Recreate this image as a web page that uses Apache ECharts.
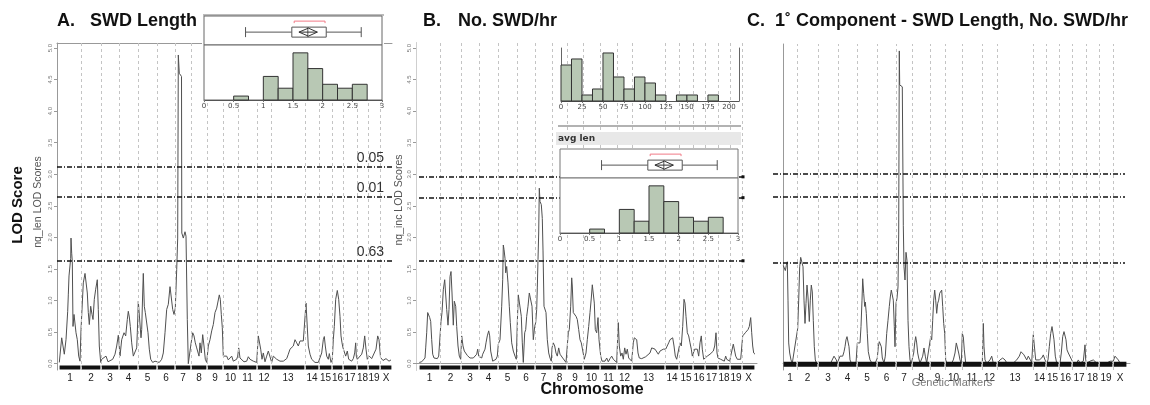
<!DOCTYPE html>
<html>
<head>
<meta charset="utf-8">
<style>
  html, body { margin: 0; padding: 0; background: #fff; }
  #chart-container { width: 1150px; height: 405px; }
</style>
</head>
<body>
<div id="chart-container"></div>
<script src="https://cdn.jsdelivr.net/npm/echarts@6/dist/echarts.min.js"></script>
<script>
var dom = document.getElementById('chart-container');
var myChart = echarts.init(dom, null, { renderer: 'canvas' });

// chromosome names, same order in every panel
const chromNames = ['1', '2', '3', '4', '5', '6', '7', '8', '9', '10', '11', '12', '13', '14', '15', '16', '17', '18', '19', 'X'];

// chromosome borders along each panel's map axis (start, inner borders, end)
const edgesLen = [2, 24, 44, 62, 81, 100, 118, 134, 150, 166, 181, 200, 214, 248, 262, 275, 286, 300, 311, 323, 335];
const edgesRate = [3, 24, 45, 63, 82, 101, 119, 136, 151, 167, 184, 201, 216, 249, 263, 277, 289, 302, 314, 326, 339];
const edgesPC = [0, 14, 35, 55, 74, 94, 113, 129, 147, 162, 179, 199, 214, 250, 263, 276, 289, 303, 316, 330, 344];

// significance thresholds (LOD)
const threshLen = [3.12, 2.64, 1.63];
const threshLenLabels = ['0.05', '0.01', '0.63'];
const threshRate = [2.96, 2.63, 1.63];
const threshPC = [3.02, 2.65, 1.61];

const yTicks = [0, 0.5, 1, 1.5, 2, 2.5, 3, 3.5, 4, 4.5, 5];
const lenTicks = [0, 0.5, 1, 1.5, 2, 2.5, 3];
const rateTicks = [0, 25, 50, 75, 100, 125, 150, 175, 200];

// LOD profiles [map position, LOD]
const lodLen = [
  [2.3,0.02],[4.7,0.41],[7.3,0.15],[9,0.38],[9.7,0.41],[10.7,0.83],[11.3,1.09],[12,1.39],[13,1.41],[13.7,1.67],[14,1.99],[14.7,1.75],[15.3,1.62],[16,0.59],[17,0.78],[18,0.75],[19,0.49],[20.3,0.38],[21.7,0.12],[23,0.04],
  [24,0.54],[26.3,1.28],[28,1.43],[29,1.41],[30.3,1.12],[31.3,0.81],[32.3,0.62],[33.7,0.91],[35,0.78],[36,0.7],[37.3,1.02],[38.7,1.18],[39.3,1.17],[40.3,1.33],[41.3,0.86],[42.3,0.28],[43.7,0.02],
  [44.7,0.07],[46.3,0.08],[49,0.12],[51,0.03],[53,0.04],[55.7,0.07],[58,0.15],[59.7,0.28],[61.3,0.45],[62,0.33],
  [63,0.12],[64.7,0.38],[67,0.49],[68.7,0.44],[70.3,0.7],[71.3,0.83],[72.3,0.74],[73.3,0.59],[74.7,0.33],[76.3,0.12],[78,0.12],[79.7,0.25],[80.3,0.49],
  [81.3,0.99],[83,0.99],[84,0.41],[84.7,0.54],[85.7,1.12],[86.3,1.43],[87.3,0.91],[88.3,0.81],[89.7,0.78],[91,0.49],[92.3,0.23],[93.7,0.07],[95.7,0.02],[98,0.04],
  [99.7,0.04],[102.3,0.02],[104.7,0.07],[106.3,0.17],[108,0.49],[109.7,0.86],[111.3,0.94],[113,1.22],[114.7,1.22],[115.7,0.86],[117,0.78],[118.3,0.88],
  [119.7,1.49],[120.7,1.99],[121.3,4.89],[122.3,4.6],[124.5,4.55],[124.8,2.07],[126.3,1.99],[128,2.09],[129,2.02],[130.3,0.7],[131.3,0],
  [133.7,0.28],[135.7,0.49],[137,0.44],[138.3,0.33],[139.7,0.25],[141,0.28],[142,0.12],[143,0.33],[144.3,0.17],[145.7,0.46],[147,0.28],[148.3,0.07],[149.7,0.02],
  [151.3,0.28],[153,0.38],[154.7,0.52],[156.3,0.62],[158,0.81],[159.7,0.88],[161.3,0.91],[162.3,1.09],[163.3,1.02],[164.3,0.78],[165.3,0.57],
  [166.3,0.12],[168,0.15],[169.7,0.12],[171.3,0.06],[173,0.08],[174.7,0.12],[176.3,0.04],[178,0.03],[179.7,0.07],[180.7,0.12],
  [181.7,0.25],[183,0.09],[184.7,0.06],[187,0.03],[189.7,0.04],[191.3,0.11],[193,0.07],[194.7,0.08],[196.3,0.04],[198,0.03],[199.7,0.02],
  [201.3,0.44],[202.3,0.43],[203.7,0.23],[205,0.07],[206.3,0.17],[208,0.03],[209.7,0.12],[211.3,0.2],[213,0.23],
  [214.7,0.02],[216.3,0.12],[218,0.14],[219.7,0.07],[223,0.04],[226.3,0.04],[229.7,0.08],[231.3,0.15],[233,0.23],[234.7,0.2],[236.3,0.28],[238,0.38],[239.7,0.33],[241.3,0.28],[243,0.36],[244.7,0.33],[246.3,0.36],[247.3,0.38],
  [249,0.96],[250,0.95],[251.3,0.28],[253,0.15],[254.7,0.07],[256.3,0.09],[258,0.02],[259.7,0.04],[261.3,0.02],
  [263,0.03],[264.7,0.17],[266.3,0.38],[267.3,0.43],[268.3,0.28],[269.7,0.12],[271.3,0.07],[272.3,0.16],[274,0.02],
  [275.3,0.07],[276.3,0.38],[277.3,0.59],[278.7,1.02],[280.3,1.16],[281.7,1.02],[283,0.75],[284,0.44],[285,0.33],[286,0.25],
  [287,0.23],[288.7,0.12],[290.3,0.2],[291.7,0.07],[293,0.09],[294.7,0.04],[296.3,0.08],[297.7,0.17],[298.7,0.33],[299.3,0.12],
  [300.3,0.07],[302.3,0.09],[304.7,0.15],[306.3,0.25],[307.7,0.44],[309,0.23],[310.3,0.07],
  [312.3,0.12],[314.7,0.08],[316.3,0.06],[319,0.23],[320.7,0.44],[322,0.38],
  [323.5,0.1],[326,0.05],[329,0.08],[332,0.04],[334,0.06]
];

const lodRate = [
  [3.3,0.02],[5.7,0.03],[7.3,0.02],[9,0.09],[9.7,0.25],[10.7,0.49],[11.7,0.81],[12.7,0.83],[13.7,0.73],[14.7,0.67],[15.7,0.38],[16.7,0.15],[18,0.09],[20,0.07],[21.3,0.08],[22.7,0.12],[23.7,0.13],
  [25,0.67],[26,0.81],[27.3,1.17],[28.7,1.33],[29.7,1.33],[30.7,0.86],[32,0.61],[33,0.86],[34,1.38],[35,1.46],[36,1.12],[37.3,0.61],[38.3,0.99],[39.7,0.91],[40.7,0.59],[42,0.28],[43.3,0.12],[44.7,0.07],
  [45.7,0.44],[47,0.28],[48.3,0.2],[50,0.17],[51.3,0.13],[52.7,0.15],[54,0.09],[55.7,0.07],[57.3,0.09],[59,0.11],[60.7,0.15],[61.7,0.23],[62.7,0.12],
  [64,0.12],[65.7,0.09],[66.7,0.15],[68,0.12],[69,0.23],[70,0.33],[71.3,0.44],[72.7,0.52],[73.7,0.44],[74.7,0.2],[76.7,0.04],[78.3,0.04],[80,0.07],[81.3,0.12],
  [82.3,0.31],[84,0.38],[85.7,0.91],[86.7,1.33],[87.3,1.88],[88,1.81],[89,1.67],[89.7,1.44],[90.7,1.54],[92,1.28],[93.3,0.91],[94.3,0.65],[95.7,0.33],[97.3,0.2],[99,0.12],[100.3,0.07],
  [101.3,0.65],[102.3,1.09],[103.3,1.09],[104.3,1.07],[105.3,0.75],[106.3,0.33],[107.3,0.02],[108.7,0.49],[109.7,0.54],[110.7,0.75],[112,0.91],[113.3,1.12],[114.7,1.09],[116,0.91],[117.3,0.38],[118.7,0.59],
  [119.7,0.65],[120.7,0.86],[121.3,1.2],[122,1.65],[122.7,2.07],[123.3,2.78],[124,2.57],[125.3,2.52],[126.3,2.3],[127,1.8],[128,0.91],[129,0.94],[130,0.81],[131.3,0.38],[132.7,0.17],[134,0.09],[135.3,0.04],
  [136,0.25],[137.3,0.33],[138.7,0.28],[140,0.17],[141.3,0.12],[142.7,0.25],[144,0.15],[145.3,0.17],[146.7,0.09],[148.3,0.07],[150,0.02],
  [152.3,0.49],[153.3,0.54],[154.7,0.91],[155.7,1.36],[156.3,1.23],[157.3,0.81],[158.7,0.78],[160,0.75],[161.3,0.7],[162.7,0.54],[164,0.38],[165.3,0.33],[166.7,0.31],
  [168.3,0.07],[170,0.17],[171.3,0.38],[172.7,0.59],[174,0.81],[175.3,1.04],[176.3,1.25],[177.3,1.22],[178.3,0.96],[179.3,0.54],[180.7,0.49],[182,0.73],[183,0.38],
  [184.7,0.12],[186,0.04],[187.3,0.07],[189,0.04],[190.7,0.09],[192.3,0.03],[194,0.08],[195.7,0.12],[197.3,0.07],[199,0.08],[200.7,0.02],
  [202.3,0.65],[203.3,0.28],[204.7,0.12],[206,0.17],[207.3,0.07],[208.7,0.25],[210,0.15],[211.3,0.23],[212.7,0.09],[214,0.07],[215.7,0.04],
  [217.3,0.33],[218.3,0.41],[219.7,0.44],[220.7,0.38],[222,0.17],[223.3,0.09],[225.7,0.08],[227.3,0.07],[229.7,0.11],[231.7,0.12],[234,0.17],[235.7,0.25],[237.3,0.28],[239,0.23],[240.7,0.25],[242.3,0.15],[244,0.2],[245.7,0.17],[247.3,0.23],[248.3,0.24],
  [249.7,0.23],[251.3,0.25],[252.7,0.33],[254,0.38],[255.3,0.36],[256.7,0.41],[258,0.28],[259.3,0.12],[260.7,0.07],[262.3,0.04],
  [264,0.33],[265.3,0.28],[266.7,0.59],[268,1.02],[269,0.96],[270,0.75],[271.3,0.49],[272.7,0.44],[274,0.33],[275.3,0.23],[276.3,0.12],
  [277.3,0.12],[278.7,0.23],[280,0.25],[281.3,0.23],[282.7,0.12],[284,0.33],[285.3,0.44],[286.3,0.23],[287.7,0.07],[288.7,0.09],
  [289.7,0.07],[291.3,0.12],[292.7,0.09],[294,0.15],[295.7,0.17],[297.3,0.2],[298.7,0.28],[300,0.49],[301,0.17],[302,0.09],
  [303,0.09],[304.7,0.07],[306.3,0.08],[308.3,0.04],[309.7,0.12],[310.7,0.07],[312.3,0.07],[313.7,0.04],
  [314.7,0.12],[316.3,0.15],[317.3,0.31],[318.3,0.28],[319.7,0.12],[321.3,0.07],[323,0.09],[324.7,0.07],
  [326.7,0.44],[328,0.44],[329.3,0.49],[330.7,0.46],[332,0.54],[333.3,0.59],[334.7,0.73],[335.7,0.49],[336.7,0.28],[337.7,0.17],[339,0.15]
];

const lodPC = [
  [0.3,1.56],[1.3,1.54],[2.3,1.48],[3.3,1.56],[4.3,1.62],[5,1.01],[5.7,0.33],[6.7,0.17],[8,0.06],[9.3,0.01],[11.3,0],
  [14.7,0.56],[15.7,1.01],[16.7,1.54],[17.7,1.69],[19,1.72],[20,1.54],[21,1.01],[22,0.64],[23,0.96],[24,1.25],[25,1.06],[26.3,0.67],[27.3,1.01],[28.3,1.25],[29.3,1.14],[30.3,0.69],[31.3,0.27],[32.3,0.06],[33.7,0],
  [36.3,0.01],[40.3,0],[45.3,0],[47.7,0.01],[49.7,0.04],[51,0.12],[52.3,0.14],[53.3,0.06],[54.3,0.01],
  [55.7,0.04],[57,0.12],[58.3,0.14],[59.7,0.12],[61,0.19],[62,0.27],[63,0.38],[64,0.43],[65,0.41],[66,0.27],[67,0.06],[68.7,0],[73,0.01],
  [74.3,0.33],[75.7,0.35],[77,0.33],[78,0.59],[79,1.01],[79.7,1.35],[80.7,1.12],[81.7,0.91],[82.3,0.98],[83.3,0.8],[84.3,0.48],[85.3,0.19],[87,0.06],[89,0.01],[92,0],
  [94.3,0.09],[95.3,0.27],[96.3,0.35],[97.3,0.35],[98.3,0.27],[99.3,0.09],[101,0.01],[102.3,0.12],[103.7,0.48],[105,0.69],[106.3,0.91],[107.3,1.06],[108.3,1.17],[109.3,1.14],[110.3,1.01],[111.3,0.59],[112,0.27],
  [113,0.96],[114,1.04],[115,1.22],[115.7,2.06],[116.3,4.97],[116.7,4.43],[119.3,4.4],[119.7,4.38],[120.3,2.2],[121,1.54],[122,1.33],[123,1.77],[124,1.64],[125,0.69],[126,0.27],[127,0.06],[128.3,0.01],
  [129.7,0.04],[130.7,0.17],[131.7,0.33],[132.7,0.43],[133.7,0.33],[134.7,0.17],[135.7,0.09],[137,0.01],[138.3,0.04],[139.7,0.12],[141,0.25],[142.3,0.12],[143.7,0.01],[145.3,0],
  [147.7,0.43],[148.7,0.38],[149.7,0.69],[150.7,1.01],[151.7,1.17],[152.7,1.01],[153.7,0.8],[154.7,0.96],[155.7,1.01],[156.7,1.12],[157.7,1.09],[158.7,1.17],[159.7,0.91],[160.7,0.64],[161.7,0.48],
  [162.7,0.06],[164.3,0],[168.3,0],[170.3,0.06],[172,0.17],[173.3,0.33],[174.3,0.35],[175.7,0.17],[177,0.06],[178.3,0.01],
  [179.3,0.48],[180.3,0.43],[181.3,0.22],[182.7,0.01],[187,0.01],[192,0],[197,0],
  [199.3,0.01],[200.3,0.64],[201,0.27],[202,0.06],[203.7,0.01],[205.3,0.04],[207,0.06],[208.7,0.12],[210.3,0.01],[212,0],
  [214.3,0.01],[217,0.06],[219.7,0.09],[222,0.06],[224.3,0],[230.3,0.01],[233.7,0.06],[236.3,0.12],[238,0.19],[239.3,0.22],[241,0.14],[242.3,0.12],[243.7,0.06],[245.3,0.12],[247,0.09],[248.7,0.02],
  [250.3,0.46],[251.7,0.43],[252.7,0.06],[254.3,0.04],[256.3,0.06],[258.7,0.09],[260.3,0.14],[262,0.06],
  [263.7,0.01],[265,0.06],[266.3,0.27],[267.7,0.48],[269,0.59],[270,0.56],[271,0.38],[272.3,0.12],[273.7,0.01],[275.3,0],
  [277,0.01],[278.3,0.17],[279.7,0.43],[281,0.51],[282,0.54],[283,0.38],[284,0.22],[285.3,0.17],[287,0.19],[288.7,0.06],
  [290.3,0.01],[293.7,0.01],[295.3,0.06],[297,0.01],[300.3,0.04],[302,0.3],[302.7,0.06],
  [303.7,0.01],[307,0.04],[310.3,0.06],[312,0.09],[313.7,0.01],[315.3,0.01],
  [317,0.01],[320.3,0],[323.7,0.01],[327,0.04],[328.7,0.01],
  [330.3,0.04],[332,0.12],[333.7,0.09],[335.3,0.06],[337,0.01],[338.7,0.04],[340.3,0.01],[342,0]
];

// phenotype distributions: bin edges and counts
const lenBins = [0, 0.25, 0.5, 0.75, 1, 1.25, 1.5, 1.75, 2, 2.25, 2.5, 2.75, 3];
const lenCounts = [0, 0, 1, 0, 6, 3, 12, 8, 4, 3, 4, 0];
const rateBins = [0, 12.5, 25, 37.5, 50, 62.5, 75, 87.5, 100, 112.5, 125, 137.5, 150, 162.5, 175, 187.5, 200];
const rateCounts = [6, 7, 1, 2, 8, 4, 2, 4, 3, 1, 0, 1, 1, 0, 1, 0];
// outlier box: min, q1, median, q3, max, mean-ci low, mean, mean-ci high, shortest half low, high
const lenBox = [0.70, 1.48, 1.75, 2.06, 2.65, 1.60, 1.76, 1.91, 1.52, 2.04];

const FONT = 'Liberation Sans';

function mids(edges) {
  const m = [];
  for (let i = 0; i < edges.length - 1; i++) m.push((edges[i] + edges[i + 1]) / 2);
  return m;
}

function chromFormatter(edges) {
  const m = mids(edges);
  return function (v) {
    for (let i = 0; i < m.length; i++) {
      if (Math.abs(m[i] - v) < 1e-6) return chromNames[i];
    }
    return '';
  };
}

function rugData(edges, y) {
  const d = [];
  for (let i = 0; i < edges.length - 1; i++) {
    d.push([edges[i] + 0.6, y]);
    d.push([edges[i + 1] - 0.6, y]);
    d.push([edges[i + 1], null]);
  }
  return d;
}

function histData(bins, counts) {
  return counts.map((c, i) => [bins[i], bins[i + 1], c]);
}

const threshStyle = { color: '#111', width: 1.5, type: [5, 2, 1, 2] };

function dividerLines(edges) {
  return edges.slice(1, -1).map(e => ({
    xAxis: e,
    lineStyle: { color: '#c4c4c4', type: [3, 3], width: 1 },
    label: { show: false }
  }));
}

function thresholdLines(thresh, x0, x1, labels, endDot) {
  return thresh.map((t, i) => [
    {
      coord: [x0, t],
      lineStyle: threshStyle,
      label: labels ? {
        show: true, formatter: labels[i], position: 'insideEndTop',
        distance: [8, 2], fontSize: 14, color: '#333', fontFamily: FONT
      } : { show: false }
    },
    endDot ? { coord: [x1, t], symbol: 'rect', symbolSize: 3 } : { coord: [x1, t] }
  ]);
}

function mainX(gridIndex, min, max, edges, topLine) {
  return [
    {
      gridIndex: gridIndex, type: 'value', min: min, max: max,
      axisLine: { show: false }, axisTick: { show: false }, splitLine: { show: false },
      axisLabel: edges ? {
        customValues: mids(edges), formatter: chromFormatter(edges),
        margin: 3, fontSize: 10, color: '#222', fontFamily: FONT
      } : { show: false }
    },
    {
      gridIndex: gridIndex, type: 'value', position: 'top', min: min, max: max,
      axisLine: { show: topLine, lineStyle: { color: '#999' } },
      axisTick: { show: false }, axisLabel: { show: false }, splitLine: { show: false }
    }
  ];
}

function mainY(gridIndex, withLabels) {
  return {
    gridIndex: gridIndex, type: 'value', min: -0.1, max: 5.08,
    axisLine: { show: withLabels, lineStyle: { color: '#999' } },
    axisTick: { show: withLabels, customValues: yTicks, length: 3, lineStyle: { color: '#999' } },
    axisLabel: {
      show: withLabels, customValues: yTicks, rotate: 90, fontSize: 6, color: '#777', margin: 4,
      formatter: v => v.toFixed(1)
    },
    splitLine: { show: false }
  };
}

function rightBorder(gridIndex, color) {
  return {
    gridIndex: gridIndex, type: 'value', min: -0.1, max: 5.08, position: 'right',
    axisLine: { show: true, lineStyle: { color: color } },
    axisTick: { show: false }, axisLabel: { show: false }, splitLine: { show: false }
  };
}

function insetX(gridIndex, min, max, ticks, showAxis) {
  return {
    gridIndex: gridIndex, type: 'value', min: min, max: max, z: 6,
    axisLine: { show: showAxis, lineStyle: { color: '#555' } },
    axisTick: { show: showAxis, customValues: ticks, length: 2, lineStyle: { color: '#777' } },
    axisLabel: { show: showAxis, customValues: ticks, fontSize: 7, color: '#444', margin: 3, fontFamily: 'DejaVu Sans' },
    splitLine: { show: false }
  };
}

function insetY(gridIndex, min, max, position, showLine) {
  return {
    gridIndex: gridIndex, type: 'value', min: min, max: max, position: position || 'left', z: 6,
    axisLine: { show: !!showLine, onZero: false, lineStyle: { color: '#666' } },
    axisTick: { show: false }, axisLabel: { show: false }, splitLine: { show: false }
  };
}

function renderHist(params, api) {
  const c = api.value(2);
  if (!c) return null;
  const p0 = api.coord([api.value(0), c]);
  const p1 = api.coord([api.value(1), 0]);
  return {
    type: 'rect',
    shape: { x: p0[0], y: p0[1], width: p1[0] - p0[0], height: p1[1] - p0[1] },
    style: { fill: '#b8c8b4', stroke: '#333', lineWidth: 1 }
  };
}

function renderBox(params, api) {
  const pt = i => api.coord([api.value(i), 0]);
  const lo = pt(0), q1 = pt(1), md = pt(2), q3 = pt(3), hi = pt(4);
  const mLo = pt(5), mn = pt(6), mHi = pt(7), sLo = pt(8), sHi = pt(9);
  const cy = lo[1];
  const st = { stroke: '#555', lineWidth: 1, fill: null };
  return {
    type: 'group',
    children: [
      { type: 'line', shape: { x1: lo[0], y1: cy, x2: q1[0], y2: cy }, style: st },
      { type: 'line', shape: { x1: q3[0], y1: cy, x2: hi[0], y2: cy }, style: st },
      { type: 'line', shape: { x1: lo[0], y1: cy - 5, x2: lo[0], y2: cy + 5 }, style: st },
      { type: 'line', shape: { x1: hi[0], y1: cy - 5, x2: hi[0], y2: cy + 5 }, style: st },
      { type: 'rect', shape: { x: q1[0], y: cy - 5, width: q3[0] - q1[0], height: 10 }, style: { stroke: '#555', fill: '#fff', lineWidth: 1 } },
      { type: 'line', shape: { x1: md[0], y1: cy - 5, x2: md[0], y2: cy + 5 }, style: st },
      { type: 'polygon', shape: { points: [[mLo[0], cy], [mn[0], cy - 4], [mHi[0], cy], [mn[0], cy + 4]] }, style: { stroke: '#333', fill: null, lineWidth: 1 } },
      { type: 'line', shape: { x1: mLo[0], y1: cy, x2: mHi[0], y2: cy }, style: { stroke: '#333', lineWidth: 1 } },
      { type: 'polyline', shape: { points: [[sLo[0], cy - 9], [sLo[0], cy - 11], [sHi[0], cy - 11], [sHi[0], cy - 9]] }, style: { stroke: '#f07a86', fill: null, lineWidth: 1 } }
    ]
  };
}

function curveSeries(xi, yi, data, markData) {
  return {
    type: 'line', xAxisIndex: xi, yAxisIndex: yi, data: data,
    symbol: 'none', showSymbol: false, z: 2,
    lineStyle: { color: '#505050', width: 1 },
    markLine: { silent: true, symbol: 'none', animation: false, data: markData }
  };
}

function rugSeries(xi, yi, edges, y, w) {
  return {
    type: 'line', xAxisIndex: xi, yAxisIndex: yi, data: rugData(edges, y),
    symbol: 'none', z: 3, connectNulls: false,
    lineStyle: { color: '#111', width: w }
  };
}

const titleStyle = { fontFamily: FONT, fontWeight: 'bold', fontSize: 18, color: '#111' };

var option = {
  animation: false,
  backgroundColor: '#fff',
  title: [
    { text: 'A.', left: 57, top: 12, padding: 0, textStyle: titleStyle },
    { text: 'SWD Length', left: 90, top: 12, padding: 0, textStyle: titleStyle },
    { text: 'B.', left: 423, top: 12, padding: 0, textStyle: titleStyle },
    { text: 'No. SWD/hr', left: 458, top: 12, padding: 0, textStyle: titleStyle },
    { text: 'C.', left: 747, top: 12, padding: 0, textStyle: titleStyle },
    { text: '1˚ Component - SWD Length, No. SWD/hr', left: 775, top: 12, padding: 0, textStyle: titleStyle }
  ],
  grid: [
    { left: 57, top: 43, width: 335, height: 327 },
    { left: 416, top: 43, width: 341, height: 327 },
    { left: 783, top: 44, width: 347, height: 326 },
    { left: 204, top: 16, width: 178, height: 29, show: true, z: 6, borderColor: '#666', backgroundColor: '#fff' },
    { left: 204, top: 45, width: 178, height: 55, show: true, z: 6, borderColor: '#666', backgroundColor: '#fff' },
    { left: 561, top: 48, width: 178, height: 53, z: 6 },
    { left: 560, top: 149, width: 178, height: 29, show: true, z: 6, borderColor: '#777', backgroundColor: '#fff' },
    { left: 560, top: 178, width: 178, height: 55, show: true, z: 6, borderColor: '#777', backgroundColor: '#fff' },
    // panel C thresholds reach a little left of the plot frame
    { left: 773, top: 44, width: 357, height: 326 }
  ],
  xAxis: [].concat(
    mainX(0, 0, 335, edgesLen, true),
    mainX(1, 0, 341, edgesRate, true),
    mainX(2, 0, 347, edgesPC, true),
    [
      insetX(3, 0, 3, lenTicks, false),
      insetX(4, 0, 3, lenTicks, true),
      insetX(5, 0, 212, rateTicks, true),
      insetX(6, 0, 3, lenTicks, false),
      insetX(7, 0, 3, lenTicks, true)
    ],
    mainX(8, -10, 347, null, false)
  ),
  yAxis: [
    mainY(0, true),
    mainY(1, true),
    mainY(2, false),
    rightBorder(2, '#999'),
    insetY(3, -0.8, 1),
    insetY(4, 0, 14),
    insetY(5, 0, 8.83, 'left', true),
    insetY(5, 0, 8.83, 'right', true),
    insetY(6, -0.8, 1),
    insetY(7, 0, 14),
    rightBorder(1, '#cfcfcf'),
    mainY(8, false)
  ],
  graphic: [
    // white backing behind the two inset distribution panels
    { type: 'rect', z: 5, shape: { x: 202, y: 14, width: 182, height: 99 }, style: { fill: '#fff' } },
    { type: 'line', z: 6, shape: { x1: 203, y1: 15, x2: 384, y2: 15 }, style: { stroke: '#777', lineWidth: 1 } },
    { type: 'rect', z: 5, shape: { x: 555, y: 44, width: 185, height: 203 }, style: { fill: '#fff' } },
    { type: 'line', z: 6, shape: { x1: 558, y1: 126, x2: 741, y2: 126 }, style: { stroke: '#999', lineWidth: 1.5 } },
    { type: 'rect', z: 6, shape: { x: 556, y: 132, width: 185, height: 13 }, style: { fill: '#e8e8e8' } },
    { type: 'text', z: 8, x: 558, y: 138.5, style: { text: 'avg len', fontSize: 9, fontWeight: 'bold', fontFamily: 'DejaVu Sans', fill: '#333', align: 'left', verticalAlign: 'middle' } },
    { type: 'text', z: 8, x: 18, y: 205, rotation: Math.PI / 2, style: { text: 'LOD Score', fontSize: 15, fontWeight: 'bold', fontFamily: FONT, fill: '#111', align: 'center', verticalAlign: 'middle' } },
    { type: 'text', z: 8, x: 38, y: 202, rotation: Math.PI / 2, style: { text: 'nq_len LOD Scores', fontSize: 10.5, fontFamily: FONT, fill: '#555', align: 'center', verticalAlign: 'middle' } },
    { type: 'text', z: 8, x: 399, y: 200, rotation: Math.PI / 2, style: { text: 'nq_inc LOD Scores', fontSize: 10.5, fontFamily: FONT, fill: '#555', align: 'center', verticalAlign: 'middle' } },
    { type: 'text', z: 8, x: 592, y: 390, style: { text: 'Chromosome', fontSize: 16, fontWeight: 'bold', fontFamily: FONT, fill: '#111', align: 'center', verticalAlign: 'middle' } },
    { type: 'text', z: 8, x: 952, y: 383, style: { text: 'Genetic Markers', fontSize: 11, fontFamily: FONT, fill: '#777', align: 'center', verticalAlign: 'middle' } }
  ],
  series: [
    curveSeries(0, 0, lodLen, dividerLines(edgesLen).concat(thresholdLines(threshLen, 0, 335, threshLenLabels, false))),
    curveSeries(2, 1, lodRate, dividerLines(edgesRate).concat(thresholdLines(threshRate, 3, 327, null, true))),
    curveSeries(4, 2, lodPC, dividerLines(edgesPC)),
    {
      type: 'line', xAxisIndex: 11, yAxisIndex: 11, data: [], symbol: 'none', z: 2,
      markLine: { silent: true, symbol: 'none', animation: false, data: thresholdLines(threshPC, -10, 342, null, false) }
    },
    rugSeries(0, 0, edgesLen, -0.06, 4),
    rugSeries(2, 1, edgesRate, -0.06, 4),
    rugSeries(4, 2, edgesPC, -0.01, 5),
    { type: 'custom', xAxisIndex: 6, yAxisIndex: 4, z: 7, renderItem: renderBox, data: [lenBox], encode: { x: [0, 4] } },
    { type: 'custom', xAxisIndex: 7, yAxisIndex: 5, z: 7, renderItem: renderHist, data: histData(lenBins, lenCounts), encode: { x: [0, 1], y: 2 } },
    { type: 'custom', xAxisIndex: 8, yAxisIndex: 6, z: 7, renderItem: renderHist, data: histData(rateBins, rateCounts), encode: { x: [0, 1], y: 2 } },
    { type: 'custom', xAxisIndex: 9, yAxisIndex: 8, z: 7, renderItem: renderBox, data: [lenBox], encode: { x: [0, 4] } },
    { type: 'custom', xAxisIndex: 10, yAxisIndex: 9, z: 7, renderItem: renderHist, data: histData(lenBins, lenCounts), encode: { x: [0, 1], y: 2 } }
  ]
};

myChart.setOption(option);
window.addEventListener('resize', myChart.resize);
</script>
</body>
</html>
